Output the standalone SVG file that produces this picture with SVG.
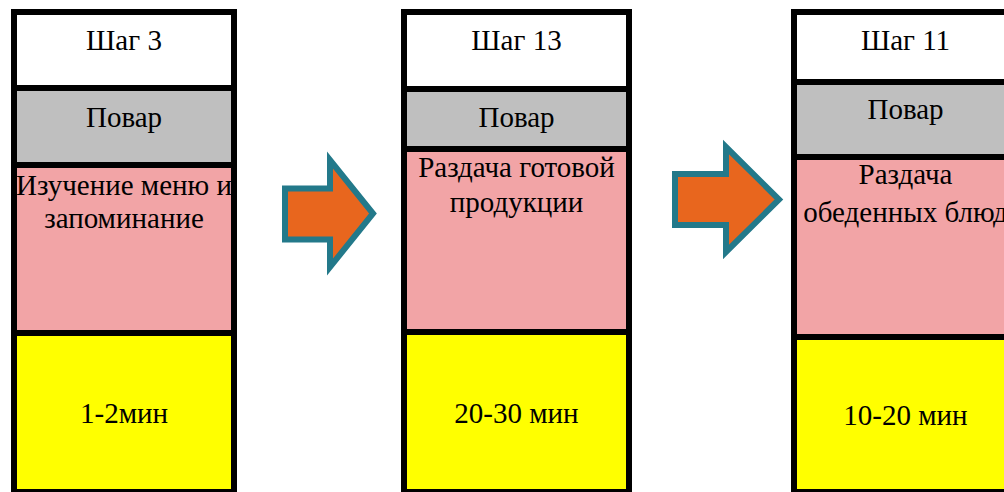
<svg xmlns="http://www.w3.org/2000/svg" width="1004" height="492" viewBox="0 0 1004 492">
<defs>
<style>
text{font-family:'Liberation Serif','DejaVu Serif',serif;font-size:29px;fill:#000;text-anchor:middle}
.w{fill:#ffffff}
.g{fill:#bfbfbf}
.p{fill:#f2a4a6}
.y{fill:#ffff00}
.frame{fill:none;stroke:#000;stroke-width:6}
.div{stroke:#000;stroke-width:6}
.arrow{fill:#e8661e;stroke:#23798a;stroke-width:6;stroke-linejoin:miter}
</style>
</defs>
<rect width="1004" height="492" fill="#ffffff"/>
<g id="step3">
<rect class="w" x="14" y="12" width="220" height="76"/>
<rect class="g" x="14" y="88" width="220" height="77"/>
<rect class="p" x="14" y="165" width="220" height="168"/>
<rect class="y" x="14" y="333" width="220" height="159"/>
<line class="div" x1="14" y1="88" x2="234" y2="88"/>
<line class="div" x1="14" y1="165" x2="234" y2="165"/>
<line class="div" x1="14" y1="333" x2="234" y2="333"/>
<rect class="frame" x="14" y="12" width="220" height="480"/>
<text x="124" y="50">Шаг 3</text>
<text x="124" y="127">Повар</text>
<text x="124" y="195">Изучение меню и</text>
<text x="124" y="228">запоминание</text>
<text x="124" y="423">1-2мин</text>
</g>
<g id="step13">
<rect class="w" x="404" y="12" width="225" height="77"/>
<rect class="g" x="404" y="89" width="225" height="60"/>
<rect class="p" x="404" y="149" width="225" height="183"/>
<rect class="y" x="404" y="332" width="225" height="160"/>
<line class="div" x1="404" y1="89" x2="629" y2="89"/>
<line class="div" x1="404" y1="149" x2="629" y2="149"/>
<line class="div" x1="404" y1="332" x2="629" y2="332"/>
<rect class="frame" x="404" y="12" width="225" height="480"/>
<text x="516.5" y="50">Шаг 13</text>
<text x="516.5" y="127">Повар</text>
<text x="516.5" y="177">Раздача готовой</text>
<text x="516.5" y="212">продукции</text>
<text x="516.5" y="423">20-30 мин</text>
</g>
<g id="step11">
<rect class="w" x="794" y="12" width="223" height="70"/>
<rect class="g" x="794" y="82" width="223" height="75"/>
<rect class="p" x="794" y="157" width="223" height="180"/>
<rect class="y" x="794" y="337" width="223" height="155"/>
<line class="div" x1="794" y1="82" x2="1017" y2="82"/>
<line class="div" x1="794" y1="157" x2="1017" y2="157"/>
<line class="div" x1="794" y1="337" x2="1017" y2="337"/>
<rect class="frame" x="794" y="12" width="223" height="480"/>
<text x="905.5" y="50">Шаг 11</text>
<text x="905.5" y="119">Повар</text>
<text x="905.5" y="184">Раздача</text>
<text x="905.5" y="222">обеденных блюд</text>
<text x="905.5" y="425">10-20 мин</text>
</g>
<g id="connectors">
<polygon class="arrow" points="285,188.5 330,188.5 330,160 373,213.5 330,267 330,239.5 285,239.5"/>
<polygon class="arrow" points="675,174 726,174 726,147 779,199.5 726,252 726,225 675,225"/>
</g>
</svg>
